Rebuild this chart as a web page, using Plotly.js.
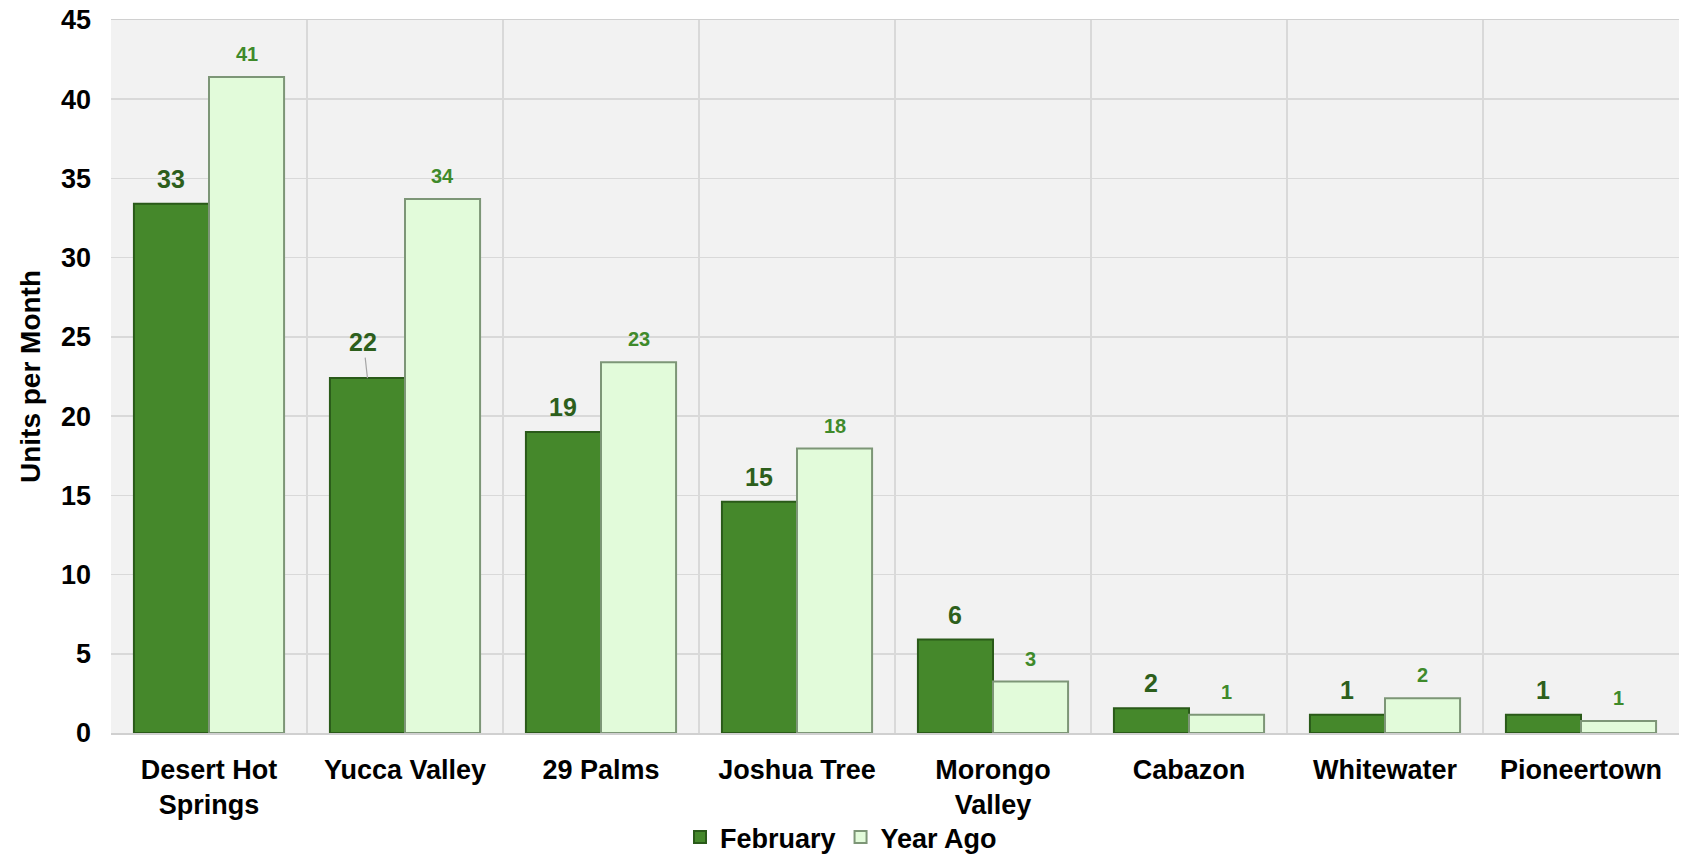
<!DOCTYPE html>
<html>
<head>
<meta charset="utf-8">
<script src="https://cdn.plot.ly/plotly-3.0.1.min.js"></script>
<style>html,body{margin:0;padding:0;background:#fff;}#chart{width:1682px;height:862px;}</style>
</head>
<body>
<div id="chart"></div>
<script>
// ---- data ----
const categories = ['Desert Hot<br>Springs', 'Yucca Valley', '29 Palms', 'Joshua Tree', 'Morongo<br>Valley', 'Cabazon', 'Whitewater', 'Pioneertown'];
const february = [33.4, 22.4, 19.0, 14.6, 5.9, 1.56, 1.15, 1.15];
const yearAgo = [41.4, 33.7, 23.4, 17.95, 3.25, 1.15, 2.2, 0.75];
const februaryLabels = ['33', '22', '19', '15', '6', '2', '1', '1'];
const yearAgoLabels = ['41', '34', '23', '18', '3', '1', '2', '1'];
const yTicks = [0, 5, 10, 15, 20, 25, 30, 35, 40, 45];

// ---- layout geometry ----
const W = 1682, H = 862;
const margin = {l: 111, r: 3, t: 20, b: 129, pad: 0};
const bargap = 0.234;
const plotW = W - margin.l - margin.r;
const catW = plotW / categories.length;
const barShift = catW * (1 - bargap) / 4;

const font = 'Liberation Sans, Arial, sans-serif';

const traces = [
  {
    type: 'bar', name: 'February', x: categories, y: february,
    marker: {color: '#45882b', line: {color: '#2a5a19', width: 2}},
    hoverinfo: 'skip'
  },
  {
    type: 'bar', name: 'Year Ago', x: categories, y: yearAgo,
    marker: {color: '#e2fbda', line: {color: '#7d9677', width: 2}},
    hoverinfo: 'skip'
  }
];

const annotations = [];
categories.forEach((c, i) => {
  const isMoved = (i === 1);
  annotations.push({
    x: c, y: february[i], xref: 'x', yref: 'y',
    text: februaryLabels[i], showarrow: isMoved,
    arrowhead: 0, arrowcolor: '#a6a6a6', arrowwidth: 1.2,
    ax: isMoved ? -4 : 0, ay: isMoved ? -36 : 0, standoff: 0,
    xshift: -barShift, yshift: isMoved ? 0 : 25,
    yanchor: 'middle', xanchor: 'center',
    font: {family: font, size: 25, color: '#2d5f1c', weight: 700}
  });
  annotations.push({
    x: c, y: yearAgo[i], xref: 'x', yref: 'y',
    text: yearAgoLabels[i], showarrow: false,
    xshift: barShift, yshift: 23,
    yanchor: 'middle', xanchor: 'center',
    font: {family: font, size: 20, color: '#3f8a2b', weight: 700}
  });
});

const layout = {
  width: W, height: H, margin: margin,
  paper_bgcolor: '#ffffff', plot_bgcolor: '#f2f2f2',
  barmode: 'group', bargap: bargap, bargroupgap: 0,
  font: {family: font, color: '#000'},
  xaxis: {
    type: 'category', tickson: 'boundaries', showgrid: true,
    gridcolor: '#d9d9d9', gridwidth: 1.5, ticks: '',
    showline: true, linecolor: '#d0d0d0', linewidth: 1.5, mirror: true,
    tickfont: {family: font, size: 27, color: '#000', weight: 700},
    ticklabelstandoff: 12, fixedrange: true
  },
  yaxis: {
    range: [0, 45], tickvals: yTicks, ticktext: yTicks.map(String),
    showgrid: true, gridcolor: '#d9d9d9', gridwidth: 1.5,
    zeroline: false, ticks: '', ticklabelstandoff: 19,
    tickfont: {family: font, size: 27, color: '#000', weight: 700},
    title: {text: 'Units per Month', font: {family: font, size: 28, color: '#000', weight: 700}, standoff: 12},
    fixedrange: true
  },
  showlegend: true,
  legend: {
    orientation: 'h', xref: 'container', yref: 'container',
    x: 0.5, xanchor: 'center', y: 0, yanchor: 'bottom',
    font: {family: font, size: 27, color: '#000', weight: 700},
    itemwidth: 30, tracegroupgap: 0, bgcolor: 'rgba(0,0,0,0)'
  },
  annotations: annotations
};

Plotly.newPlot('chart', traces, layout, {displayModeBar: false, staticPlot: true});
</script>
</body>
</html>
